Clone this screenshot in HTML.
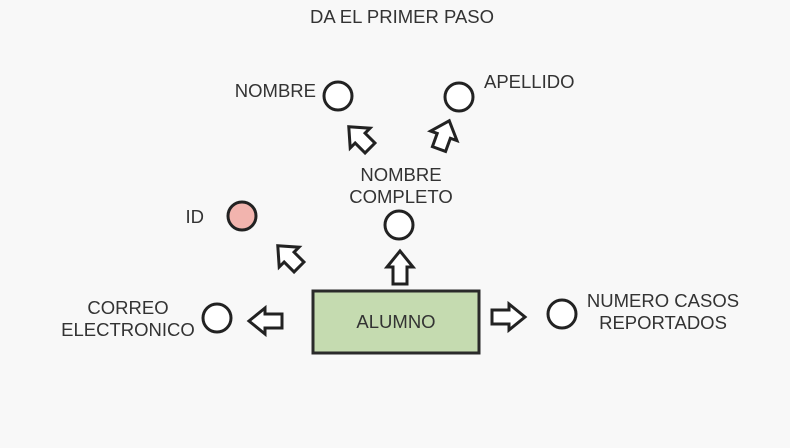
<!DOCTYPE html>
<html><head><meta charset="utf-8"><style>
body{margin:0;background:#f8f8f8;}
svg{display:block;}
text{font-family:"Liberation Sans",sans-serif;font-size:18.5px;fill:#333;}
</style></head><body>
<svg width="790" height="448" viewBox="0 0 790 448">
<rect width="790" height="448" fill="#f8f8f8"/>
<defs>
<polygon id="ar" points="0,-7 17,-7 17,-13 33,0 17,13 17,7 0,7" fill="#fff" stroke="#222" stroke-width="3" stroke-linejoin="miter"/>
<polygon id="as" points="0,-7 14,-7 14,-14 30,0 14,14 14,7 0,7" fill="#fff" stroke="#222" stroke-width="3"/>
</defs>
<text x="402" y="23" text-anchor="middle">DA EL PRIMER PASO</text>
<text x="316" y="97" text-anchor="end">NOMBRE</text>
<text x="484" y="88">APELLIDO</text>
<text x="401" y="181" text-anchor="middle">NOMBRE</text>
<text x="401" y="203" text-anchor="middle">COMPLETO</text>
<text x="204" y="223" text-anchor="end">ID</text>
<text x="128" y="314" text-anchor="middle">CORREO</text>
<text x="128" y="336" text-anchor="middle">ELECTRONICO</text>
<text x="663" y="307" text-anchor="middle">NUMERO CASOS</text>
<text x="663" y="329" text-anchor="middle">REPORTADOS</text>
<g fill="#fff" stroke="#222" stroke-width="3">
<circle cx="338" cy="96" r="14"/>
<circle cx="459" cy="97" r="14"/>
<circle cx="242" cy="216" r="14" fill="#f2b4ae"/>
<circle cx="399" cy="225" r="14"/>
<circle cx="217" cy="318" r="14"/>
<circle cx="562" cy="314" r="14"/>
</g>
<rect x="313" y="291" width="166" height="62" fill="#c5dbb0" stroke="#2a2a2a" stroke-width="3"/>
<text x="396" y="328" text-anchor="middle">ALUMNO</text>
<use href="#ar" transform="translate(400,284) rotate(-90)"/>
<use href="#ar" transform="translate(282,321) rotate(180)"/>
<use href="#ar" transform="translate(492,317)"/>
<use href="#as" transform="translate(370,148) rotate(-135)"/>
<use href="#as" transform="translate(439,149) rotate(-70)"/>
<use href="#as" transform="translate(299,267) rotate(-135)"/>
</svg>
</body></html>
